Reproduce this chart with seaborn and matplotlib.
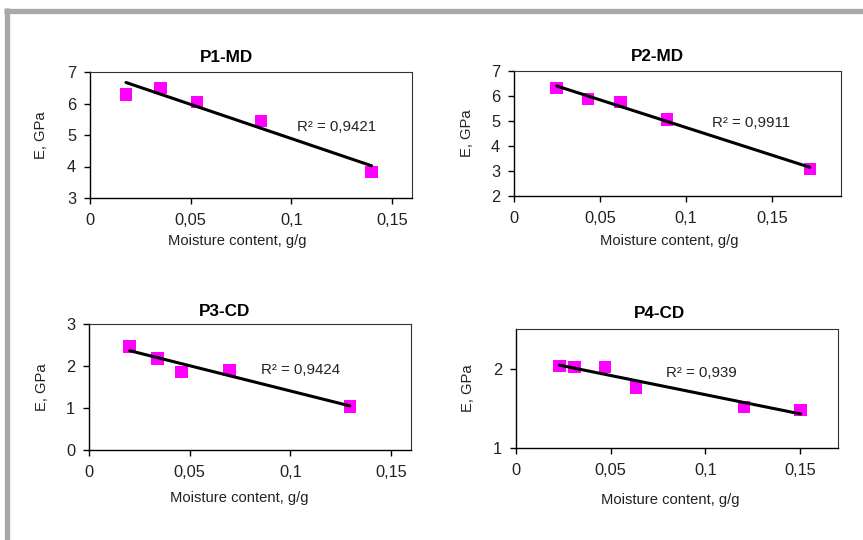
import numpy as np
import pandas as pd
import matplotlib
matplotlib.use("Agg")
import matplotlib.pyplot as plt
import seaborn as sns
from matplotlib.lines import Line2D

# ── Data ─────────────────────────────────────────────────────────────────────
titles = ["P1-MD", "P2-MD", "P3-CD", "P4-CD"]

p1_x = [0.0179, 0.0351, 0.0533, 0.0849, 0.1399]
p1_y = [6.29, 6.50, 6.04, 5.44, 3.83]

p2_x = [0.0248, 0.0430, 0.0620, 0.0890, 0.1719]
p2_y = [6.32, 5.88, 5.77, 5.06, 3.08]

p3_x = [0.0202, 0.0341, 0.0459, 0.0698, 0.1296]
p3_y = [2.46, 2.18, 1.86, 1.90, 1.04]

p4_x = [0.0230, 0.0309, 0.0470, 0.0633, 0.1205, 0.1502]
p4_y = [2.03, 2.02, 2.02, 1.76, 1.52, 1.48]

r2_labels = ["R² = 0,9421", "R² = 0,9911", "R² = 0,9424", "R² = 0,939"]

xlims = [(0, 0.16), (0, 0.19), (0, 0.16), (0, 0.17)]
ylims = [(3, 7), (2, 7), (0, 3), (1, 2.5)]
yticks = [range(3, 8), range(2, 8), range(0, 4), [1, 2]]
xticks = [0, 0.05, 0.1, 0.15]
xtick_labels = ["0", "0,05", "0,1", "0,15"]

# ── Layout (pixels of the 863x540 canvas) ────────────────────────────────────
W, H = 863, 540
rects = [(90, 72, 412, 198), (514, 71, 841, 196),
         (89, 324, 411, 450), (516, 329, 838, 448)]
title_pos = [(0.425, 57), (0.44, 57), (0.42, 311), (0.445, 313)]
xlabel_pos = [(237, 241), (669, 241), (239, 498), (670, 500)]
ylabel_x = [41, 467, 42, 468]
r2_pos = [(337, 127), (751, 123), (301, 370), (701, 373)]

sns.set_style("white")
plt.rcParams["font.family"] = ["Liberation Sans", "DejaVu Sans"]

fig = plt.figure(figsize=(W / 100, H / 100), dpi=100)
fig.patch.set_facecolor("white")

# grey frame: top and left edges
fig.add_artist(Line2D([4 / W, 1], [1 - 10.5 / H, 1 - 10.5 / H],
                      color="#a8a8a8", lw=3.8, solid_capstyle="butt"))
fig.add_artist(Line2D([6.7 / W, 6.7 / W], [0, 1 - 8 / H],
                      color="#a8a8a8", lw=3.8, solid_capstyle="butt"))

datasets = [(p1_x, p1_y), (p2_x, p2_y), (p3_x, p3_y), (p4_x, p4_y)]

for i, (xs, ys) in enumerate(datasets):
    l, t, r, b = rects[i]
    ax = fig.add_axes([l / W, 1 - b / H, (r - l) / W, (b - t) / H])
    df = pd.DataFrame({"x": xs, "y": ys})
    sns.regplot(data=df, x="x", y="y", ax=ax, ci=None, truncate=True,
                marker="s",
                scatter_kws=dict(s=80, color="#ff00ff", edgecolor="none", alpha=1),
                line_kws=dict(color="black", lw=2.2))
    ax.set_xlim(*xlims[i]); ax.set_ylim(*ylims[i])
    ax.set_xticks(xticks); ax.set_xticklabels(xtick_labels)
    ax.set_yticks(list(yticks[i]))
    ax.tick_params(axis="both", direction="out", length=4, width=1,
                   color="black", labelsize=11.8, labelcolor="#222222")
    ax.tick_params(axis="x", pad=7)
    ax.tick_params(axis="y", pad=6)
    ax.xaxis.set_ticks_position("bottom"); ax.yaxis.set_ticks_position("left")
    for s in ["left", "bottom"]:
        ax.spines[s].set_color("black"); ax.spines[s].set_linewidth(1.0)
    for s in ["top", "right"]:
        ax.spines[s].set_color("#333333"); ax.spines[s].set_linewidth(0.8)
    ax.set_xlabel(""); ax.set_ylabel("")

    tx, ty = title_pos[i]
    ax.text(tx, (b - ty) / (b - t), titles[i], transform=ax.transAxes,
            ha="center", va="center", fontsize=12.3, fontweight="bold",
            color="black")
    lx, ly = xlabel_pos[i]
    ax.text((lx - l) / (r - l), (b - ly) / (b - t), "Moisture content, g/g",
            transform=ax.transAxes, ha="center", va="center",
            fontsize=10.6, color="#222222")
    ax.text((ylabel_x[i] - l) / (r - l), 0.5, "E, GPa", transform=ax.transAxes,
            ha="center", va="center", rotation=90, fontsize=10.6, color="#222222")
    rx, ry = r2_pos[i]
    ax.text((rx - l) / (r - l), (b - ry) / (b - t), r2_labels[i],
            transform=ax.transAxes, ha="center", va="center",
            fontsize=10.8, color="#222222")

plt.savefig("out.png", dpi=100)
